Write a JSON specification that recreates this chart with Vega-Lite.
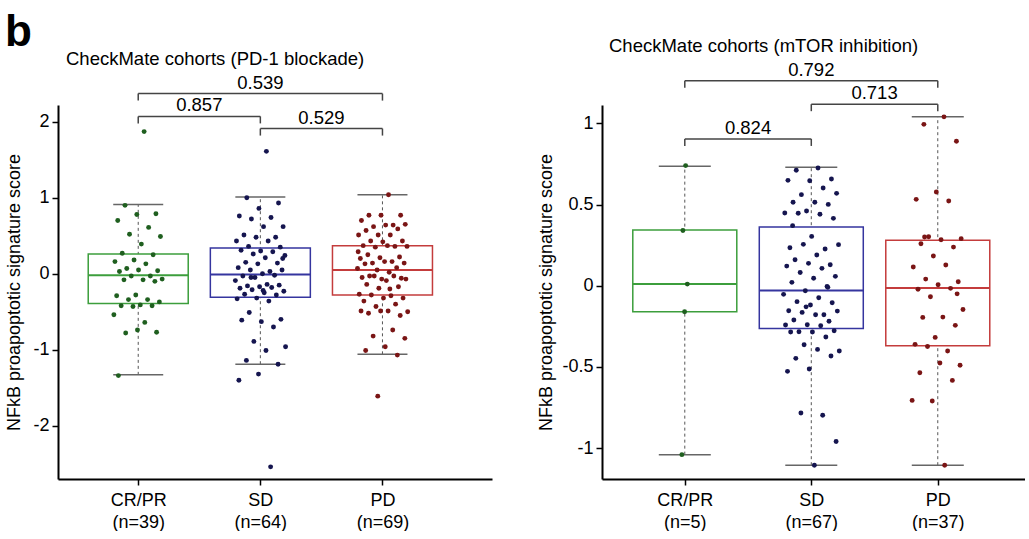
{
  "$schema": "https://vega.github.io/schema/vega-lite/v6.json",
  "padding": {"left": 4, "top": 11, "right": 0, "bottom": 0},
  "title": {"text": "b", "anchor": "start", "fontSize": 44, "fontWeight": "bold", "font": "Liberation Sans", "color": "black", "offset": -18, "dx": -1},
  "spacing": 45,
  "config": {
    "view": {"stroke": null},
    "axis": {"grid": false, "domainColor": "black", "domainWidth": 2, "tickColor": "black", "tickWidth": 1.5, "tickSize": 6, "labelFont": "Liberation Sans", "labelFontSize": 18, "labelColor": "black", "titleFont": "Liberation Sans", "titleFontSize": 18, "titleFontWeight": "normal", "titleColor": "black"},
    "text": {"font": "Liberation Sans"},
    "title": {"font": "Liberation Sans", "fontSize": 18.5, "fontWeight": "normal", "color": "black"}
  },
  "datasets": {
    "p1pts": [
      {"g":"CR/PR","v":1.87},{"g":"CR/PR","v":0.90},{"g":"CR/PR","v":0.79},{"g":"CR/PR","v":0.78},{"g":"CR/PR","v":0.70},{"g":"CR/PR","v":0.61},{"g":"CR/PR","v":0.52},{"g":"CR/PR","v":0.49},{"g":"CR/PR","v":0.39},{"g":"CR/PR","v":0.27},{"g":"CR/PR","v":0.25},{"g":"CR/PR","v":0.18},{"g":"CR/PR","v":0.16},{"g":"CR/PR","v":0.13},{"g":"CR/PR","v":0.07},{"g":"CR/PR","v":0.04},{"g":"CR/PR","v":0.05},{"g":"CR/PR","v":0.03},{"g":"CR/PR","v":-0.03},{"g":"CR/PR","v":-0.03},{"g":"CR/PR","v":-0.07},{"g":"CR/PR","v":-0.08},{"g":"CR/PR","v":-0.08},{"g":"CR/PR","v":-0.10},{"g":"CR/PR","v":-0.28},{"g":"CR/PR","v":-0.29},{"g":"CR/PR","v":-0.34},{"g":"CR/PR","v":-0.34},{"g":"CR/PR","v":-0.37},{"g":"CR/PR","v":-0.41},{"g":"CR/PR","v":-0.42},{"g":"CR/PR","v":-0.42},{"g":"CR/PR","v":-0.43},{"g":"CR/PR","v":-0.54},{"g":"CR/PR","v":-0.64},{"g":"CR/PR","v":-0.78},{"g":"CR/PR","v":-0.77},{"g":"CR/PR","v":-0.74},{"g":"CR/PR","v":-1.34},
      {"g":"SD","v":1.61},{"g":"SD","v":1.00},{"g":"SD","v":0.93},{"g":"SD","v":0.86},{"g":"SD","v":0.76},{"g":"SD","v":0.74},{"g":"SD","v":0.72},{"g":"SD","v":0.62},{"g":"SD","v":0.62},{"g":"SD","v":0.51},{"g":"SD","v":0.48},{"g":"SD","v":0.48},{"g":"SD","v":0.43},{"g":"SD","v":0.43},{"g":"SD","v":0.36},{"g":"SD","v":0.35},{"g":"SD","v":0.30},{"g":"SD","v":0.31},{"g":"SD","v":0.29},{"g":"SD","v":0.26},{"g":"SD","v":0.24},{"g":"SD","v":0.21},{"g":"SD","v":0.15},{"g":"SD","v":0.14},{"g":"SD","v":0.13},{"g":"SD","v":0.08},{"g":"SD","v":0.03},{"g":"SD","v":0.05},{"g":"SD","v":0.05},{"g":"SD","v":0.00},{"g":"SD","v":-0.03},{"g":"SD","v":-0.02},{"g":"SD","v":-0.05},{"g":"SD","v":-0.09},{"g":"SD","v":-0.14},{"g":"SD","v":-0.16},{"g":"SD","v":-0.15},{"g":"SD","v":-0.17},{"g":"SD","v":-0.19},{"g":"SD","v":-0.18},{"g":"SD","v":-0.21},{"g":"SD","v":-0.23},{"g":"SD","v":-0.25},{"g":"SD","v":-0.27},{"g":"SD","v":-0.28},{"g":"SD","v":-0.32},{"g":"SD","v":-0.33},{"g":"SD","v":-0.36},{"g":"SD","v":-0.51},{"g":"SD","v":-0.60},{"g":"SD","v":-0.63},{"g":"SD","v":-0.61},{"g":"SD","v":-0.70},{"g":"SD","v":-0.89},{"g":"SD","v":-0.96},{"g":"SD","v":-1.01},{"g":"SD","v":-1.14},{"g":"SD","v":-1.19},{"g":"SD","v":-1.32},{"g":"SD","v":-1.40},{"g":"SD","v":-2.54},{"g":"SD","v":-0.05},{"g":"SD","v":0.20},{"g":"SD","v":-0.22},
      {"g":"PD","v":1.04},{"g":"PD","v":0.77},{"g":"PD","v":0.77},{"g":"PD","v":0.77},{"g":"PD","v":0.70},{"g":"PD","v":0.64},{"g":"PD","v":0.62},{"g":"PD","v":0.65},{"g":"PD","v":0.64},{"g":"PD","v":0.57},{"g":"PD","v":0.59},{"g":"PD","v":0.51},{"g":"PD","v":0.51},{"g":"PD","v":0.51},{"g":"PD","v":0.43},{"g":"PD","v":0.43},{"g":"PD","v":0.42},{"g":"PD","v":0.37},{"g":"PD","v":0.36},{"g":"PD","v":0.35},{"g":"PD","v":0.36},{"g":"PD","v":0.37},{"g":"PD","v":0.25},{"g":"PD","v":0.22},{"g":"PD","v":0.21},{"g":"PD","v":0.20},{"g":"PD","v":0.16},{"g":"PD","v":0.14},{"g":"PD","v":0.14},{"g":"PD","v":0.16},{"g":"PD","v":0.13},{"g":"PD","v":0.08},{"g":"PD","v":0.05},{"g":"PD","v":0.07},{"g":"PD","v":0.02},{"g":"PD","v":-0.03},{"g":"PD","v":-0.06},{"g":"PD","v":-0.07},{"g":"PD","v":-0.05},{"g":"PD","v":-0.03},{"g":"PD","v":-0.03},{"g":"PD","v":-0.07},{"g":"PD","v":-0.09},{"g":"PD","v":-0.14},{"g":"PD","v":-0.17},{"g":"PD","v":-0.19},{"g":"PD","v":-0.27},{"g":"PD","v":-0.29},{"g":"PD","v":-0.28},{"g":"PD","v":-0.32},{"g":"PD","v":-0.32},{"g":"PD","v":-0.36},{"g":"PD","v":-0.40},{"g":"PD","v":-0.43},{"g":"PD","v":-0.50},{"g":"PD","v":-0.49},{"g":"PD","v":-0.52},{"g":"PD","v":-0.55},{"g":"PD","v":-0.49},{"g":"PD","v":-0.49},{"g":"PD","v":-0.74},{"g":"PD","v":-0.82},{"g":"PD","v":-0.85},{"g":"PD","v":-0.96},{"g":"PD","v":-1.01},{"g":"PD","v":-1.07},{"g":"PD","v":-1.61},{"g":"PD","v":0.29},{"g":"PD","v":-0.20}
    ],
    "p1box": [
      {"g":"CR/PR","lo":-1.33,"q1":-0.39,"med":-0.02,"q3":0.26,"hi":0.91},
      {"g":"SD","lo":-1.19,"q1":-0.31,"med":-0.01,"q3":0.34,"hi":1.01},
      {"g":"PD","lo":-1.06,"q1":-0.28,"med":0.05,"q3":0.37,"hi":1.04}
    ],
    "p1br": [
      {"a":"CR/PR","b":"PD","y":2.37,"label":"0.539"},
      {"a":"CR/PR","b":"SD","y":2.07,"label":"0.857"},
      {"a":"SD","b":"PD","y":1.91,"label":"0.529"}
    ],
    "p2pts": [
      {"g":"CR/PR","v":0.74},{"g":"CR/PR","v":0.34},{"g":"CR/PR","v":0.01},{"g":"CR/PR","v":-0.16},{"g":"CR/PR","v":-1.04},
      {"g":"SD","v":0.725},{"g":"SD","v":0.711},{"g":"SD","v":0.657},{"g":"SD","v":0.647},{"g":"SD","v":0.649},{"g":"SD","v":0.602},{"g":"SD","v":0.561},{"g":"SD","v":0.569},{"g":"SD","v":0.514},{"g":"SD","v":0.514},{"g":"SD","v":0.501},{"g":"SD","v":0.46},{"g":"SD","v":0.448},{"g":"SD","v":0.44},{"g":"SD","v":0.446},{"g":"SD","v":0.415},{"g":"SD","v":0.304},{"g":"SD","v":0.234},{"g":"SD","v":0.226},{"g":"SD","v":0.255},{"g":"SD","v":0.253},{"g":"SD","v":0.189},{"g":"SD","v":0.16},{"g":"SD","v":0.129},{"g":"SD","v":0.138},{"g":"SD","v":0.121},{"g":"SD","v":0.107},{"g":"SD","v":0.082},{"g":"SD","v":0.058},{"g":"SD","v":0.046},{"g":"SD","v":0.021},{"g":"SD","v":-0.004},{"g":"SD","v":-0.031},{"g":"SD","v":-0.053},{"g":"SD","v":-0.074},{"g":"SD","v":-0.098},{"g":"SD","v":-0.105},{"g":"SD","v":-0.119},{"g":"SD","v":-0.154},{"g":"SD","v":-0.179},{"g":"SD","v":-0.164},{"g":"SD","v":-0.156},{"g":"SD","v":-0.179},{"g":"SD","v":-0.211},{"g":"SD","v":-0.219},{"g":"SD","v":-0.24},{"g":"SD","v":-0.242},{"g":"SD","v":-0.246},{"g":"SD","v":-0.283},{"g":"SD","v":-0.277},{"g":"SD","v":-0.285},{"g":"SD","v":-0.285},{"g":"SD","v":-0.316},{"g":"SD","v":-0.363},{"g":"SD","v":-0.402},{"g":"SD","v":-0.392},{"g":"SD","v":-0.447},{"g":"SD","v":-0.433},{"g":"SD","v":-0.513},{"g":"SD","v":-0.527},{"g":"SD","v":-0.797},{"g":"SD","v":-0.784},{"g":"SD","v":-0.959},{"g":"SD","v":-1.105},{"g":"SD","v":0.37},{"g":"SD","v":-0.01},{"g":"SD","v":-0.13},
      {"g":"PD","v":1.04},{"g":"PD","v":0.994},{"g":"PD","v":0.89},{"g":"PD","v":0.577},{"g":"PD","v":0.532},{"g":"PD","v":0.522},{"g":"PD","v":0.302},{"g":"PD","v":0.29},{"g":"PD","v":0.283},{"g":"PD","v":0.259},{"g":"PD","v":0.238},{"g":"PD","v":0.183},{"g":"PD","v":0.115},{"g":"PD","v":0.128},{"g":"PD","v":0.041},{"g":"PD","v":0.025},{"g":"PD","v":0.006},{"g":"PD","v":-0.022},{"g":"PD","v":-0.016},{"g":"PD","v":-0.068},{"g":"PD","v":-0.146},{"g":"PD","v":-0.193},{"g":"PD","v":-0.195},{"g":"PD","v":-0.244},{"g":"PD","v":-0.318},{"g":"PD","v":-0.361},{"g":"PD","v":-0.402},{"g":"PD","v":-0.374},{"g":"PD","v":-0.49},{"g":"PD","v":-0.476},{"g":"PD","v":-0.536},{"g":"PD","v":-0.583},{"g":"PD","v":-0.71},{"g":"PD","v":-0.706},{"g":"PD","v":-1.105},{"g":"PD","v":0.30},{"g":"PD","v":-0.05}
    ],
    "p2box": [
      {"g":"CR/PR","lo":-1.04,"q1":-0.16,"med":0.01,"q3":0.343,"hi":0.736},
      {"g":"SD","lo":-1.105,"q1":-0.263,"med":-0.03,"q3":0.362,"hi":0.73},
      {"g":"PD","lo":-1.105,"q1":-0.37,"med":-0.014,"q3":0.28,"hi":1.04}
    ],
    "p2br": [
      {"a":"CR/PR","b":"PD","y":1.263,"label":"0.792"},
      {"a":"SD","b":"PD","y":1.118,"label":"0.713"},
      {"a":"CR/PR","b":"SD","y":0.904,"label":"0.824"}
    ]
  },
  "hconcat": [
    {
      "width": 434, "height": 374,
      "title": {"text": "CheckMate cohorts (PD-1 blockade)", "anchor": "start", "frame": "group", "dx": 8, "offset": 5},
      "resolve": {"scale": {"color": "independent", "fill": "independent", "stroke": "independent"}},
      "layer": [
        {
          "data": {"name": "p1box"},
          "transform": [{"calculate": "indexof(['CR/PR','SD','PD'], datum.g) + 1", "as": "xi"}],
          "mark": {"type": "rule", "color": "#555555", "strokeWidth": 1, "strokeDash": [3, 3]},
          "encoding": {
            "x": {"field": "xi", "type": "quantitative", "scale": {"domain": [0.384, 3.856], "nice": false, "zero": false},
                  "axis": {"values": [1, 2, 3], "title": null, "labelPadding": 6, "labelLineHeight": 22, "labelExpr": "datum.value == 1 ? ['CR/PR', '(n=39)'] : datum.value == 2 ? ['SD', '(n=64)'] : ['PD', '(n=69)']"}},
            "y": {"field": "lo", "type": "quantitative", "scale": {"domain": [-2.7, 2.22], "nice": false, "zero": false},
                  "axis": {"values": [-2, -1, 0, 1, 2], "title": "NFkB proapoptotic signature score", "labelPadding": 3, "titlePadding": 9, "labelExpr": "'' + datum.value"}},
            "y2": {"field": "hi"}
          }
        },
        {
          "data": {"name": "p1box"},
          "transform": [{"calculate": "indexof(['CR/PR','SD','PD'], datum.g) + 1", "as": "xi"}],
          "mark": {"type": "bar", "width": 100, "fill": "white", "strokeWidth": 1.5},
          "encoding": {
            "x": {"field": "xi", "type": "quantitative"},
            "y": {"field": "q1", "type": "quantitative"},
            "y2": {"field": "q3"},
            "stroke": {"field": "g", "type": "nominal", "scale": {"domain": ["CR/PR", "SD", "PD"], "range": ["#3c9e3c", "#35359f", "#c43c3c"]}, "legend": null}
          }
        },
        {
          "data": {"name": "p1box"},
          "transform": [{"calculate": "indexof(['CR/PR','SD','PD'], datum.g) + 1", "as": "xi"}],
          "mark": {"type": "tick", "orient": "horizontal", "size": 100, "thickness": 2, "opacity": 1},
          "encoding": {
            "x": {"field": "xi", "type": "quantitative"},
            "y": {"field": "med", "type": "quantitative"},
            "color": {"field": "g", "type": "nominal", "scale": {"domain": ["CR/PR", "SD", "PD"], "range": ["#3c9e3c", "#35359f", "#c43c3c"]}, "legend": null}
          }
        },
        {
          "data": {"name": "p1box"},
          "transform": [{"calculate": "indexof(['CR/PR','SD','PD'], datum.g) + 1", "as": "xi"}, {"fold": ["lo", "hi"], "as": ["k", "cap"]}],
          "mark": {"type": "tick", "orient": "horizontal", "size": 50, "thickness": 1.5, "color": "#666666", "opacity": 1},
          "encoding": {
            "x": {"field": "xi", "type": "quantitative"},
            "y": {"field": "cap", "type": "quantitative"}
          }
        },
        {
          "data": {"name": "p1pts"},
          "transform": [
            {"window": [{"op": "row_number", "as": "rn"}], "groupby": ["g"]},
            {"joinaggregate": [{"op": "count", "as": "n"}], "groupby": ["g"]},
            {"calculate": "indexof(['CR/PR','SD','PD'], datum.g) + 1 + ((datum.rn * 0.618034) % 1 - 0.5) * 0.42 * min(1, datum.n / 40)", "as": "xj"}
          ],
          "mark": {"type": "circle", "size": 24, "opacity": 1},
          "encoding": {
            "x": {"field": "xj", "type": "quantitative"},
            "y": {"field": "v", "type": "quantitative"},
            "fill": {"field": "g", "type": "nominal", "scale": {"domain": ["CR/PR", "SD", "PD"], "range": ["#1f5f1f", "#15154f", "#7a1515"]}, "legend": null}
          }
        },
        {
          "data": {"name": "p1br"},
          "transform": [{"calculate": "indexof(['CR/PR','SD','PD'], datum.a) + 1", "as": "xa"}, {"calculate": "indexof(['CR/PR','SD','PD'], datum.b) + 1", "as": "xb"}],
          "mark": {"type": "rule", "color": "#444444", "strokeWidth": 1.5},
          "encoding": {
            "x": {"field": "xa", "type": "quantitative"},
            "x2": {"field": "xb"},
            "y": {"field": "y", "type": "quantitative"}
          }
        },
        {
          "data": {"name": "p1br"},
          "transform": [{"calculate": "indexof(['CR/PR','SD','PD'], datum.a) + 1", "as": "xa"}, {"calculate": "indexof(['CR/PR','SD','PD'], datum.b) + 1", "as": "xb"}, {"fold": ["xa", "xb"], "as": ["k", "xe"]}],
          "mark": {"type": "tick", "orient": "vertical", "size": 7, "thickness": 1.5, "color": "#444444", "yOffset": 3.5, "opacity": 1},
          "encoding": {
            "x": {"field": "xe", "type": "quantitative"},
            "y": {"field": "y", "type": "quantitative"}
          }
        },
        {
          "data": {"name": "p1br"},
          "transform": [{"calculate": "(indexof(['CR/PR','SD','PD'], datum.a) + indexof(['CR/PR','SD','PD'], datum.b)) / 2 + 1", "as": "xm"}],
          "mark": {"type": "text", "fontSize": 18.5, "baseline": "alphabetic", "dy": -5, "color": "black"},
          "encoding": {
            "x": {"field": "xm", "type": "quantitative"},
            "y": {"field": "y", "type": "quantitative"},
            "text": {"field": "label"}
          }
        }
      ]
    },
    {
      "width": 423, "height": 374,
      "title": {"text": "CheckMate cohorts (mTOR inhibition)", "anchor": "start", "frame": "group", "dx": 7, "offset": 5},
      "resolve": {"scale": {"color": "independent", "fill": "independent", "stroke": "independent"}},
      "layer": [
        {
          "data": {"name": "p2box"},
          "transform": [{"calculate": "indexof(['CR/PR','SD','PD'], datum.g) + 1", "as": "xi"}],
          "mark": {"type": "rule", "color": "#555555", "strokeWidth": 1, "strokeDash": [3, 3]},
          "encoding": {
            "x": {"field": "xi", "type": "quantitative", "scale": {"domain": [0.385, 3.65], "nice": false, "zero": false},
                  "axis": {"values": [1, 2, 3], "title": null, "labelPadding": 6, "labelLineHeight": 22, "labelExpr": "datum.value == 1 ? ['CR/PR', '(n=5)'] : datum.value == 2 ? ['SD', '(n=67)'] : ['PD', '(n=37)']"}},
            "y": {"field": "lo", "type": "quantitative", "scale": {"domain": [-1.19, 1.113], "nice": false, "zero": false},
                  "axis": {"values": [-1, -0.5, 0, 0.5, 1], "title": "NFkB proapoptotic signature score", "labelPadding": 3, "titlePadding": 6, "labelExpr": "'' + datum.value"}},
            "y2": {"field": "hi"}
          }
        },
        {
          "data": {"name": "p2box"},
          "transform": [{"calculate": "indexof(['CR/PR','SD','PD'], datum.g) + 1", "as": "xi"}],
          "mark": {"type": "bar", "width": 104, "fill": "white", "strokeWidth": 1.5},
          "encoding": {
            "x": {"field": "xi", "type": "quantitative"},
            "y": {"field": "q1", "type": "quantitative"},
            "y2": {"field": "q3"},
            "stroke": {"field": "g", "type": "nominal", "scale": {"domain": ["CR/PR", "SD", "PD"], "range": ["#3c9e3c", "#35359f", "#c43c3c"]}, "legend": null}
          }
        },
        {
          "data": {"name": "p2box"},
          "transform": [{"calculate": "indexof(['CR/PR','SD','PD'], datum.g) + 1", "as": "xi"}],
          "mark": {"type": "tick", "orient": "horizontal", "size": 104, "thickness": 2, "opacity": 1},
          "encoding": {
            "x": {"field": "xi", "type": "quantitative"},
            "y": {"field": "med", "type": "quantitative"},
            "color": {"field": "g", "type": "nominal", "scale": {"domain": ["CR/PR", "SD", "PD"], "range": ["#3c9e3c", "#35359f", "#c43c3c"]}, "legend": null}
          }
        },
        {
          "data": {"name": "p2box"},
          "transform": [{"calculate": "indexof(['CR/PR','SD','PD'], datum.g) + 1", "as": "xi"}, {"fold": ["lo", "hi"], "as": ["k", "cap"]}],
          "mark": {"type": "tick", "orient": "horizontal", "size": 52, "thickness": 1.5, "color": "#666666", "opacity": 1},
          "encoding": {
            "x": {"field": "xi", "type": "quantitative"},
            "y": {"field": "cap", "type": "quantitative"}
          }
        },
        {
          "data": {"name": "p2pts"},
          "transform": [
            {"window": [{"op": "row_number", "as": "rn"}], "groupby": ["g"]},
            {"joinaggregate": [{"op": "count", "as": "n"}], "groupby": ["g"]},
            {"calculate": "indexof(['CR/PR','SD','PD'], datum.g) + 1 + ((datum.rn * 0.618034) % 1 - 0.5) * 0.45 * min(1, datum.n / 40)", "as": "xj"}
          ],
          "mark": {"type": "circle", "size": 24, "opacity": 1},
          "encoding": {
            "x": {"field": "xj", "type": "quantitative"},
            "y": {"field": "v", "type": "quantitative"},
            "fill": {"field": "g", "type": "nominal", "scale": {"domain": ["CR/PR", "SD", "PD"], "range": ["#1f5f1f", "#15154f", "#7a1515"]}, "legend": null}
          }
        },
        {
          "data": {"name": "p2br"},
          "transform": [{"calculate": "indexof(['CR/PR','SD','PD'], datum.a) + 1", "as": "xa"}, {"calculate": "indexof(['CR/PR','SD','PD'], datum.b) + 1", "as": "xb"}],
          "mark": {"type": "rule", "color": "#444444", "strokeWidth": 1.5},
          "encoding": {
            "x": {"field": "xa", "type": "quantitative"},
            "x2": {"field": "xb"},
            "y": {"field": "y", "type": "quantitative"}
          }
        },
        {
          "data": {"name": "p2br"},
          "transform": [{"calculate": "indexof(['CR/PR','SD','PD'], datum.a) + 1", "as": "xa"}, {"calculate": "indexof(['CR/PR','SD','PD'], datum.b) + 1", "as": "xb"}, {"fold": ["xa", "xb"], "as": ["k", "xe"]}],
          "mark": {"type": "tick", "orient": "vertical", "size": 7, "thickness": 1.5, "color": "#444444", "yOffset": 3.5, "opacity": 1},
          "encoding": {
            "x": {"field": "xe", "type": "quantitative"},
            "y": {"field": "y", "type": "quantitative"}
          }
        },
        {
          "data": {"name": "p2br"},
          "transform": [{"calculate": "(indexof(['CR/PR','SD','PD'], datum.a) + indexof(['CR/PR','SD','PD'], datum.b)) / 2 + 1", "as": "xm"}],
          "mark": {"type": "text", "fontSize": 18.5, "baseline": "alphabetic", "dy": -5, "color": "black"},
          "encoding": {
            "x": {"field": "xm", "type": "quantitative"},
            "y": {"field": "y", "type": "quantitative"},
            "text": {"field": "label"}
          }
        }
      ]
    }
  ]
}
